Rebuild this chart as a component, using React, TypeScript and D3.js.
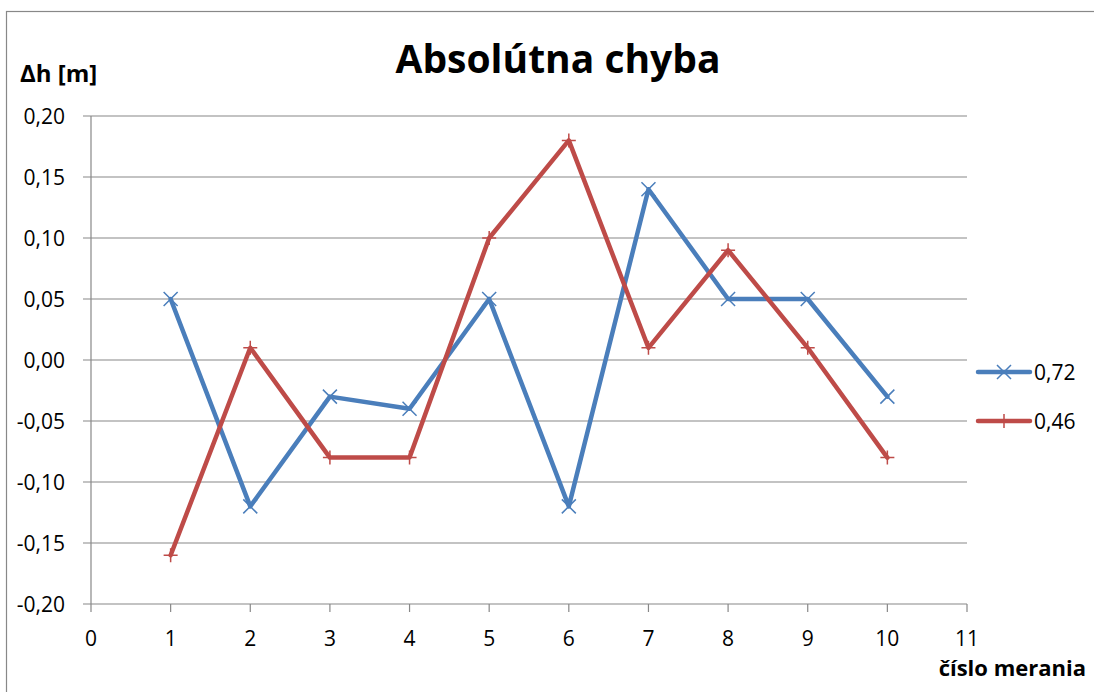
import React from "react";
import * as d3 from "d3";

const categories = [1, 2, 3, 4, 5, 6, 7, 8, 9, 10];
const series072 = [0.05, -0.12, -0.03, -0.04, 0.05, -0.12, 0.14, 0.05, 0.05, -0.03];
const series046 = [-0.16, 0.01, -0.08, -0.08, 0.1, 0.18, 0.01, 0.09, 0.01, -0.08];
const yTicks = [-0.2, -0.15, -0.1, -0.05, 0, 0.05, 0.1, 0.15, 0.2];
const xTicks = [0, 1, 2, 3, 4, 5, 6, 7, 8, 9, 10, 11];
const seriesNames = ["0,72", "0,46"];
const colors = ["#4a7ebb", "#be4b48"];

const W = 1094;
const H = 692;
const FONT = "'Open Sans', 'Liberation Sans', sans-serif";

export default function App() {
  const x = d3.scaleLinear().domain([0, 11]).range([91, 967]);
  const y = d3.scaleLinear().domain([-0.2, 0.2]).range([604, 116]);
  const line = d3
    .line<[number, number]>()
    .x((d) => x(d[0]))
    .y((d) => y(d[1]));
  const data = [series072, series046].map((s) => categories.map((c, i) => [c, s[i]] as [number, number]));
  const fmt = (v: number) => v.toFixed(2).replace(".", ",");

  const xMarker = (cx: number, cy: number, color: string, k: string) => (
    <path key={k} d={`M${cx - 7},${cy - 7}L${cx + 7},${cy + 7}M${cx - 7},${cy + 7}L${cx + 7},${cy - 7}`} stroke={color} strokeWidth={1.5} fill="none" />
  );
  const plusMarker = (cx: number, cy: number, color: string, k: string) => (
    <path key={k} d={`M${cx - 7},${cy}L${cx + 7},${cy}M${cx},${cy - 7}L${cx},${cy + 7}`} stroke={color} strokeWidth={1.5} fill="none" />
  );

  return (
    <svg width={W} height={H} style={{ position: "absolute", left: 0, top: 0 }}>
      <rect x={0} y={0} width={W} height={H} fill="#fff" />
      <rect x={6.5} y={11.5} width={W + 100} height={H + 100} fill="none" stroke="#888" strokeWidth={1.2} />
      <text x={558} y={73} textAnchor="middle" fontFamily={FONT} fontWeight="bold" fontSize={39}>
        Absolútna chyba
      </text>
      <text x={20} y={82} fontFamily={FONT} fontWeight="bold" fontSize={24}>
        Δh [m]
      </text>
      {yTicks.map((t) => (
        <g key={t}>
          <line x1={83} x2={967} y1={y(t)} y2={y(t)} stroke="#888" strokeWidth={1.2} />
          <text x={65} y={y(t) + 8} textAnchor="end" fontFamily={FONT} fontSize={21}>
            {fmt(t)}
          </text>
        </g>
      ))}
      <line x1={x(0)} x2={x(0)} y1={116} y2={604} stroke="#888" strokeWidth={1.2} />
      {xTicks.map((t) => (
        <g key={t}>
          <line x1={x(t)} x2={x(t)} y1={604} y2={612} stroke="#888" strokeWidth={1.2} />
          <text x={x(t)} y={646} textAnchor="middle" fontFamily={FONT} fontSize={21}>
            {t}
          </text>
        </g>
      ))}
      <text x={1086} y={676} textAnchor="end" fontFamily={FONT} fontWeight="bold" fontSize={22}>
        číslo merania
      </text>
      {data.map((d, si) => (
        <g key={si}>
          <path d={line(d) || ""} stroke={colors[si]} strokeWidth={4.5} fill="none" strokeLinejoin="round" strokeLinecap="round" />
          {d.map((p, i) =>
            si === 0 ? xMarker(x(p[0]), y(p[1]), colors[si], `m${i}`) : plusMarker(x(p[0]), y(p[1]), colors[si], `m${i}`)
          )}
        </g>
      ))}
      {seriesNames.map((n, si) => {
        const ly = si === 0 ? 372 : 421;
        return (
          <g key={n}>
            <line x1={978} x2={1030} y1={ly} y2={ly} stroke={colors[si]} strokeWidth={4.5} strokeLinecap="round" />
            {si === 0 ? xMarker(1004, ly, colors[si], "lm") : plusMarker(1004, ly, colors[si], "lm")}
            <text x={1034} y={ly + 8} fontFamily={FONT} fontSize={21}>
              {n}
            </text>
          </g>
        );
      })}
    </svg>
  );
}
